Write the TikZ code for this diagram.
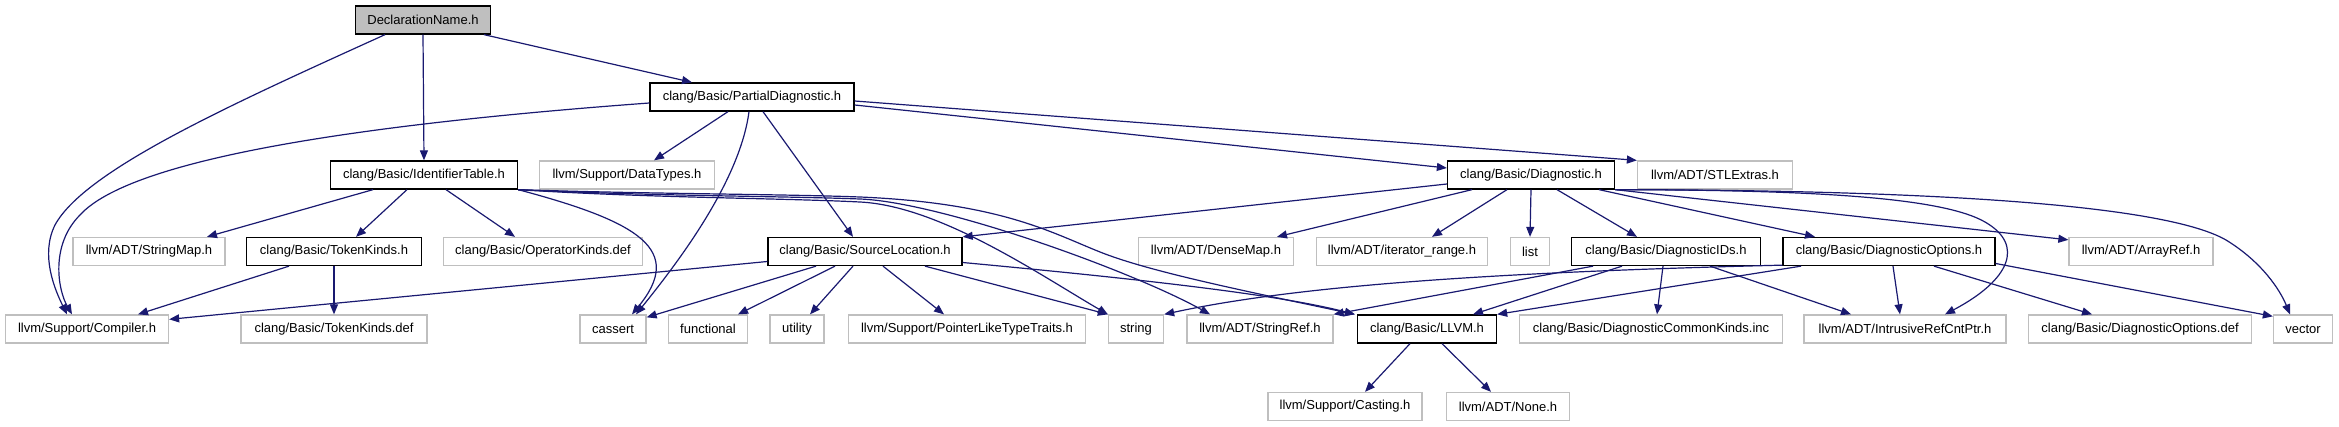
\documentclass[tikz,border=0pt]{standalone}
\usepackage{fontspec}
\setmainfont{Liberation Sans}
\usetikzlibrary{arrows.meta}
\definecolor{edgec}{HTML}{191970}
\definecolor{extc}{HTML}{BFBFBF}
\definecolor{rootc}{HTML}{BFBFBF}
\tikzset{
 box/.style={draw=black, line width=1.3pt, fill=white, minimum height=28pt, inner sep=0pt, font=\fontsize{13}{15}\selectfont},
 extbox/.style={box, draw=extc},
 rootbox/.style={box, fill=rootc},
 dep/.style={draw=edgec, line width=1.2pt, -{Triangle[length=10pt,width=8pt]}},
}
\begin{document}
\begin{tikzpicture}[x=1pt,y=-1pt]
\useasboundingbox (0,0) rectangle (2339,427);
% row 0-2
\node[rootbox, minimum width=135pt] (dn) at (423,20) {DeclarationName.h};
\node[box, minimum width=204pt] (pd) at (752,97) {clang/Basic/PartialDiagnostic.h};
\node[box, minimum width=187pt] (it) at (424,175) {clang/Basic/IdentifierTable.h};
\node[extbox, minimum width=175pt] (dt) at (627,175) {llvm/Support/DataTypes.h};
\node[box, minimum width=167pt] (dg) at (1531,175) {clang/Basic/Diagnostic.h};
\node[extbox, minimum width=155pt] (stl) at (1715,175) {llvm/ADT/STLExtras.h};
% row 3
\node[extbox, minimum width=152pt] (sm) at (149,251.5) {llvm/ADT/StringMap.h};
\node[box, minimum width=175pt] (tk) at (334,251.5) {clang/Basic/TokenKinds.h};
\node[extbox, minimum width=199pt] (ok) at (543,251.5) {clang/Basic/OperatorKinds.def};
\node[box, minimum width=194pt] (sl) at (865,251.5) {clang/Basic/SourceLocation.h};
\node[extbox, minimum width=155pt] (dm) at (1216,251.5) {llvm/ADT/DenseMap.h};
\node[extbox, minimum width=171pt] (ir) at (1402,251.5) {llvm/ADT/iterator\_range.h};
\node[extbox, minimum width=39pt] (ls) at (1530,251.5) {list};
\node[box, minimum width=189pt] (did) at (1666,251.5) {clang/Basic/DiagnosticIDs.h};
\node[box, minimum width=212pt] (dop) at (1889,251.5) {clang/Basic/DiagnosticOptions.h};
\node[extbox, minimum width=144pt] (ar) at (2141,251.5) {llvm/ADT/ArrayRef.h};
% row 4
\node[extbox, minimum width=163pt] (cp) at (87,329) {llvm/Support/Compiler.h};
\node[extbox, minimum width=186pt] (tkd) at (334,329) {clang/Basic/TokenKinds.def};
\node[extbox, minimum width=66pt] (ca) at (613,329) {cassert};
\node[extbox, minimum width=79pt] (fn) at (708,329) {functional};
\node[extbox, minimum width=54pt] (ut) at (797,329) {utility};
\node[extbox, minimum width=237pt] (pl) at (967,329) {llvm/Support/PointerLikeTypeTraits.h};
\node[extbox, minimum width=55pt] (st) at (1136,329) {string};
\node[extbox, minimum width=146pt] (sr) at (1260,329) {llvm/ADT/StringRef.h};
\node[box, minimum width=139pt] (llvm) at (1427,329) {clang/Basic/LLVM.h};
\node[extbox, minimum width=263pt] (dck) at (1651,329) {clang/Basic/DiagnosticCommonKinds.inc};
\node[extbox, minimum width=202pt] (irc) at (1905,329) {llvm/ADT/IntrusiveRefCntPtr.h};
\node[extbox, minimum width=223pt] (dod) at (2140,329) {clang/Basic/DiagnosticOptions.def};
\node[extbox, minimum width=59pt] (vec) at (2303,329) {vector};
% row 5
\node[extbox, minimum width=154pt] (cast) at (1345,406.5) {llvm/Support/Casting.h};
\node[extbox, minimum width=123pt] (none) at (1508,406.5) {llvm/ADT/None.h};
% DeclarationName.h
\draw[dep] (dn.south) -- (it.north);
\draw[dep] ([xshift=61pt]dn.south) -- ([xshift=-60pt]pd.north);
\draw[dep] ([xshift=-38pt]dn.south) .. controls (230,105) and (85,170) .. (55,225) .. controls (40,255) and (55,290) .. ([xshift=-20pt]cp.north);
% PartialDiagnostic.h
\draw[dep] ([yshift=-6pt]pd.west) .. controls (350,125) and (130,160) .. (80,215) .. controls (50,245) and (58,290) .. ([xshift=-15pt]cp.north);
\draw[dep] ([xshift=-24pt]pd.south) -- ([xshift=27pt]dt.north);
\draw[dep] ([xshift=-3pt]pd.south) .. controls (740,180) and (680,260) .. ([xshift=23pt]ca.north);
\draw[dep] ([xshift=11pt]pd.south) -- ([xshift=-12pt]sl.north);
\draw[dep] ([yshift=-8pt]pd.east) -- ([yshift=7pt]dg.west);
\draw[dep] ([yshift=-4pt]pd.east) -- (stl.north west);
% IdentifierTable.h
\draw[dep] ([xshift=-51pt]it.south) -- ([xshift=58pt]sm.north);
\draw[dep] ([xshift=-17pt]it.south) -- ([xshift=22pt]tk.north);
\draw[dep] ([xshift=22pt]it.south) -- ([xshift=-28pt]ok.north);
\draw[dep] (it.south east) .. controls (640,222) and (685,250) .. ([xshift=19pt]ca.north);
\draw[dep] (it.south east) .. controls (650,198) and (780,198) .. (860,202) .. controls (940,206) and (1040,275) .. (st.north west);
\draw[dep] (it.south east) .. controls (650,196) and (780,196) .. (860,199) .. controls (940,202) and (1130,270) .. ([xshift=-50pt]sr.north);
\draw[dep] (it.south east) .. controls (650,194) and (780,194) .. (860,197) .. controls (1000,203) and (1050,232) .. (1100,252) .. controls (1150,272) and (1250,292) .. ([xshift=-2pt]llvm.north west);
% TokenKinds.h
\draw[dep] ([xshift=-45pt]tk.south) -- ([xshift=51pt]cp.north);
\draw[dep] (tk.south) -- (tkd.north);
% SourceLocation.h
\draw[dep] ([yshift=-10pt]sl.west) -- ([yshift=-5pt]cp.north east);
\draw[dep] ([xshift=-49pt]sl.south) -- ([yshift=-3pt]ca.north east);
\draw[dep] ([xshift=-30pt]sl.south) -- ([xshift=30pt]fn.north);
\draw[dep] ([xshift=-12pt]sl.south) -- ([xshift=13pt]ut.north);
\draw[dep] ([xshift=18pt]sl.south) -- ([xshift=-23pt]pl.north);
\draw[dep] ([xshift=60pt]sl.south) -- (st.north west);
\draw[dep] ([yshift=-11pt]sl.east) .. controls (1150,280) and (1280,295) .. ([xshift=-2pt]llvm.north west);
% Diagnostic.h
\draw[dep] ([yshift=-9pt]dg.west) -- (sl.north east);
\draw[dep] ([xshift=-59pt]dg.south) -- ([xshift=61pt]dm.north);
\draw[dep] ([xshift=-24pt]dg.south) -- ([xshift=30pt]ir.north);
\draw[dep] (dg.south) -- (ls.north);
\draw[dep] ([xshift=26pt]dg.south) -- ([xshift=-29pt]did.north);
\draw[dep] ([xshift=68pt]dg.south) -- ([xshift=-74pt]dop.north);
\draw[dep] (dg.south east) -- ([yshift=-3pt]ar.north west);
\draw[dep] (dg.south east) .. controls (1800,190) and (1940,196) .. (1985,222) .. controls (2025,245) and (2010,280) .. ([xshift=40pt]irc.north);
\draw[dep] (dg.south east) .. controls (1900,190) and (2160,202) .. (2226,240) .. controls (2262,262) and (2280,290) .. ([xshift=-13pt]vec.north);
% DiagnosticIDs.h
\draw[dep] ([xshift=-73pt]did.south) -- (sr.north east);
\draw[dep] ([xshift=-44pt]did.south) -- ([xshift=46pt]llvm.north);
\draw[dep] ([xshift=-3pt]did.south) -- ([xshift=6pt]dck.north);
\draw[dep] ([xshift=44pt]did.south) -- ([xshift=-54pt]irc.north);
% DiagnosticOptions.h
\draw[dep] ([yshift=1pt]dop.south west) .. controls (1500,272) and (1300,285) .. (st.north east);
\draw[dep] ([xshift=-88pt]dop.south) -- (llvm.north east);
\draw[dep] ([xshift=4pt]dop.south) -- ([xshift=-5pt]irc.north);
\draw[dep] ([xshift=45pt]dop.south) -- ([xshift=-48pt]dod.north);
\draw[dep] ([yshift=-12pt]dop.east) -- ([yshift=-2pt]vec.north west);
% LLVM.h
\draw[dep] ([xshift=-17pt]llvm.south) -- ([xshift=20pt]cast.north);
\draw[dep] ([xshift=15pt]llvm.south) -- ([xshift=-17pt]none.north);
\end{tikzpicture}
\end{document}
